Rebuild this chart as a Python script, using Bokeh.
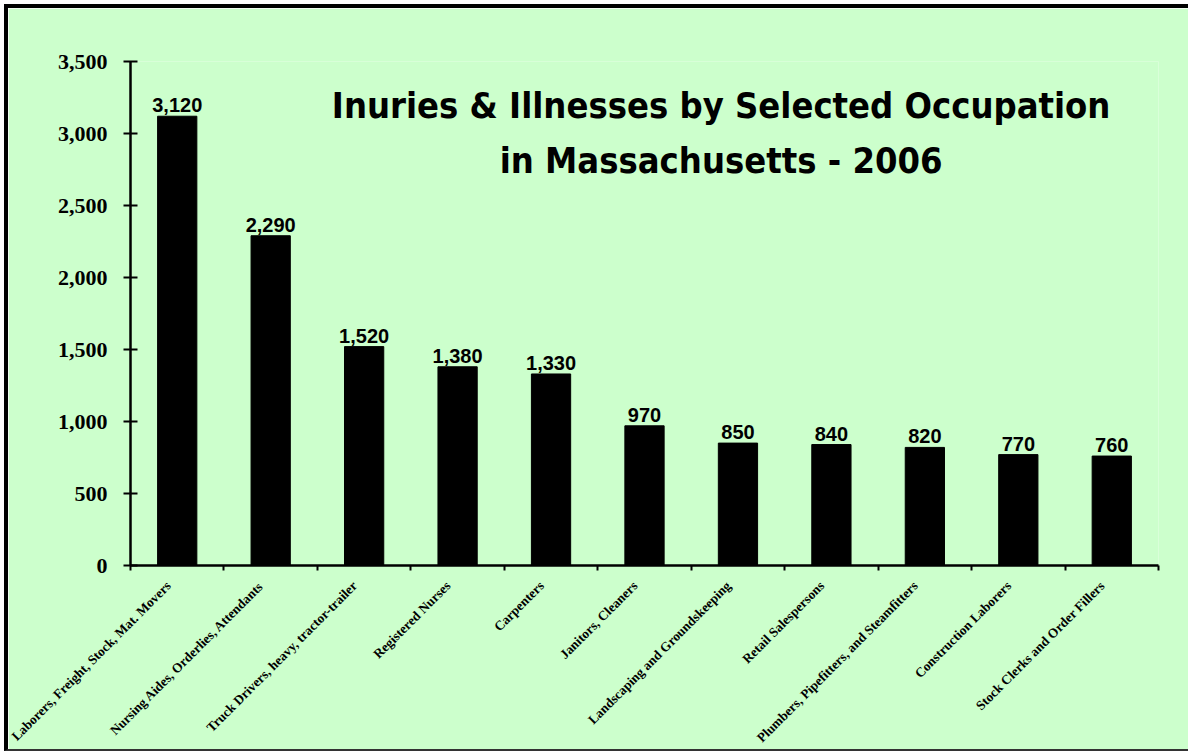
import numpy as np
from bokeh.plotting import figure
from bokeh.models import ColumnDataSource, FixedTicker, Range1d, Label, NumeralTickFormatter
from bokeh.core.properties import value
from bokeh.embed import file_html
from bokeh.resources import INLINE

occupations = [
    "Laborers, Freight, Stock, Mat. Movers",
    "Nursing Aides, Orderlies, Attendants",
    "Truck Drivers, heavy, tractor-trailer",
    "Registered Nurses",
    "Carpenters",
    "Janitors, Cleaners",
    "Landscaping and Groundskeeping",
    "Retail Salespersons",
    "Plumbers, Pipefitters, and Steamfitters",
    "Construction Laborers",
    "Stock Clerks and Order Fillers",
]
injuries = [3120, 2290, 1520, 1380, 1330, 970, 850, 840, 820, 770, 760]
y_ticks = [0, 500, 1000, 1500, 2000, 2500, 3000, 3500]
title_lines = ["Inuries & Illnesses by Selected Occupation", "in Massachusetts - 2006"]

n = len(occupations)
xs = np.arange(n) + 0.5
src = ColumnDataSource(dict(x=xs, y=injuries, lbl=[f"{v:,}" for v in injuries]))

BG = "#CCFFCC"
p = figure(width=1184, height=747, output_backend="svg", toolbar_location=None,
           x_range=Range1d(0, n), y_range=Range1d(0, y_ticks[-1]),
           min_border_left=122, min_border_right=34, min_border_top=53, min_border_bottom=190)
p.margin = (4, 0, 0, 4)
p.styles = {"border-top": "4px solid black", "border-left": "4px solid black",
            "border-bottom": "2px solid #333333", "border-right": "none",
            "box-shadow": "none"}
p.background_fill_color = BG
p.border_fill_color = BG
p.outline_line_color = None
p.xgrid.visible = False
p.ygrid.visible = False

p.vbar(x="x", top="y", width=0.42, source=src, fill_color="black", line_color="black")
p.text(x="x", y="y", text="lbl", source=src, text_align="center", text_baseline="bottom",
       y_offset=-4, text_font=value("Liberation Sans"), text_font_style="bold",
       text_font_size="20px", text_color="black")

# x axis: category names anchored just left of each bar centre, ticks at category boundaries
label_pos = [float(round(x - 0.1, 3)) for x in xs]
xa = p.xaxis[0]
xa.ticker = FixedTicker(ticks=label_pos, minor_ticks=list(range(n + 1)))
xa.major_label_overrides = {x: name for x, name in zip(label_pos, occupations)}
xa.major_label_orientation = np.pi / 4
xa.major_tick_line_color = None
xa.major_tick_in = 0
xa.major_tick_out = 5
xa.minor_tick_in = 0
xa.minor_tick_out = 5
xa.minor_tick_line_width = 2
xa.minor_tick_line_color = "black"
xa.axis_line_width = 2.5
xa.axis_line_color = "black"
xa.major_label_standoff = 13
xa.major_label_text_font = "Liberation Serif"
xa.major_label_text_font_style = "bold"
xa.major_label_text_font_size = "13.3px"
xa.major_label_text_color = "black"

# y axis
ya = p.yaxis[0]
ya.ticker = FixedTicker(ticks=y_ticks)
ya.formatter = NumeralTickFormatter(format="0,0")
ya.major_tick_in = 7
ya.major_tick_out = 7
ya.major_tick_line_width = 2
ya.major_tick_line_color = "black"
ya.minor_tick_line_color = None
ya.axis_line_width = 2.5
ya.axis_line_color = "black"
ya.major_label_standoff = 16
ya.major_label_text_font = "Liberation Serif"
ya.major_label_text_font_style = "bold"
ya.major_label_text_font_size = "22px"
ya.major_label_text_color = "black"

for txt, ty in zip(title_lines, [3195, 2814]):
    p.add_layout(Label(x=6.32, y=ty, text=txt, text_align="center", text_baseline="middle",
                       text_font="DejaVu Sans Condensed",
                       text_font_style="bold", text_font_size="36px", text_color="black"))

open("out.html", "w").write(file_html(p, INLINE))
